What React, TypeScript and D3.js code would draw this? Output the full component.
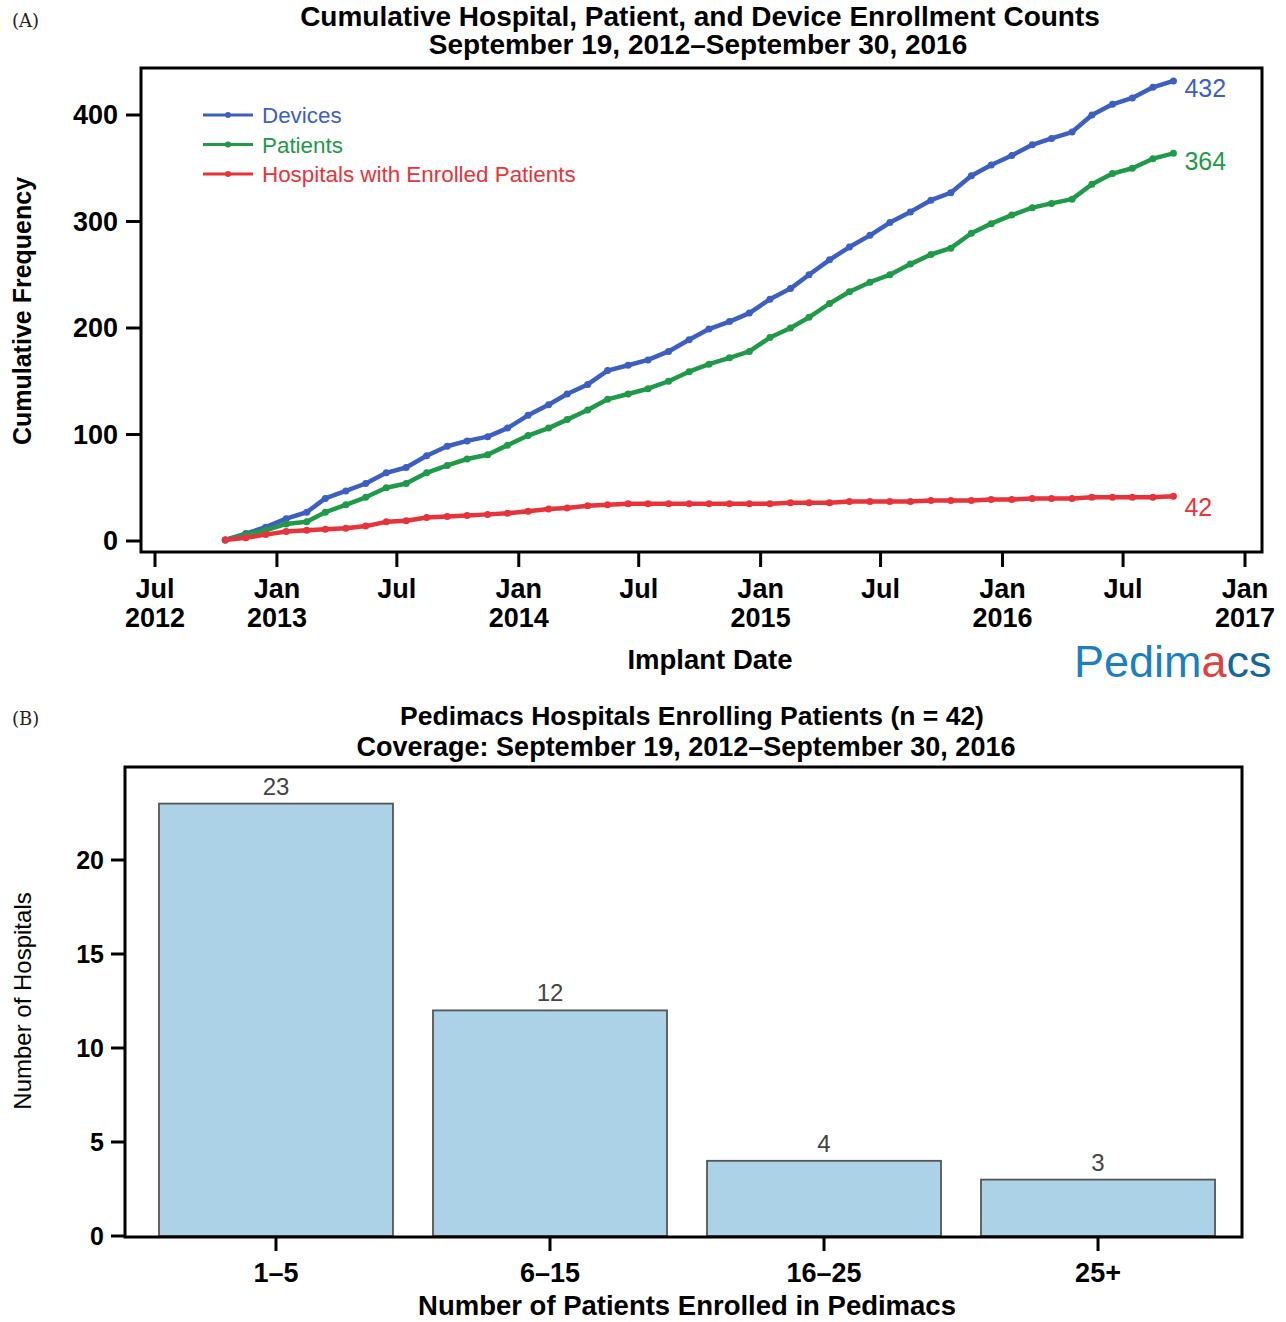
import React from 'react';
import * as d3 from 'd3';

// ---------- Panel A data ----------
const months = [
  "2012-10","2012-11","2012-12","2013-01","2013-02","2013-03","2013-04","2013-05","2013-06","2013-07","2013-08","2013-09",
  "2013-10","2013-11","2013-12","2014-01","2014-02","2014-03","2014-04","2014-05","2014-06","2014-07","2014-08","2014-09",
  "2014-10","2014-11","2014-12","2015-01","2015-02","2015-03","2015-04","2015-05","2015-06","2015-07","2015-08","2015-09",
  "2015-10","2015-11","2015-12","2016-01","2016-02","2016-03","2016-04","2016-05","2016-06","2016-07","2016-08","2016-09"
];
const devices = [1,7,13,21,27,40,47,54,64,69,80,89,94,98,106,118,128,138,147,160,165,170,178,189,199,206,214,227,237,250,264,276,287,299,309,320,327,343,353,362,372,378,384,400,410,416,426,432];
const patients = [1,6,10,16,18,27,34,41,50,54,64,71,77,81,90,99,106,114,123,133,138,143,150,159,166,172,178,191,200,210,223,234,243,250,260,269,275,289,298,306,313,317,321,335,345,350,359,364];
const hospitals = [1,3,6,9,10,11,12,14,18,19,22,23,24,25,26,28,30,31,33,34,35,35,35,35,35,35,35,35,36,36,36,37,37,37,37,38,38,38,39,39,40,40,40,41,41,41,41,42];
const seriesNames = ["Devices","Patients","Hospitals with Enrolled Patients"];
const seriesColors = ["#3c5fc1","#1f9a48","#e8333b"];
const yTicksA = [0,100,200,300,400];
const xTickDates = ["2012-07-01","2013-01-01","2013-07-01","2014-01-01","2014-07-01","2015-01-01","2015-07-01","2016-01-01","2016-07-01","2017-01-01"];
const xTickMonths = ["Jul","Jan","Jul","Jan","Jul","Jan","Jul","Jan","Jul","Jan"];
const xTickYears = ["2012","2013","","2014","","2015","","2016","","2017"];

// ---------- Panel B data ----------
const categories = ["1–5","6–15","16–25","25+"];
const hospitalCounts = [23,12,4,3];
const yTicksB = [0,5,10,15,20];

const FONT = "'Liberation Sans', Arial, Helvetica, sans-serif";

export default function App() {
  const parseDay = d3.timeParse("%Y-%m-%d");
  const dates = months.map(m => parseDay(m + "-15") as Date);
  const x = d3.scaleTime()
    .domain([parseDay("2012-07-01") as Date, parseDay("2017-01-01") as Date])
    .range([155, 1245]);
  const y = d3.scaleLinear().domain([0, 400]).range([541, 115]);
  const line = d3.line<number>().x((_, i) => x(dates[i])).y(d => y(d));
  const series = [devices, patients, hospitals];

  const xb = d3.scaleBand<string>().domain(categories).range([125, 1249]).paddingInner(0.146).paddingOuter(0.124);
  const yb = d3.scaleLinear().domain([0, 25]).range([1236, 766]);

  const endLabelDy = [16, 17, 20];

  return (
    <svg width={1286} height={1322} style={{ position: 'absolute', left: 0, top: 0, background: '#fff' }} fontFamily={FONT}>
      <rect x={0} y={0} width={1286} height={1322} fill="#fff" />
      {/* Panel A */}
      <text x={12} y={27} fontSize={18} fontFamily="'DejaVu Serif', serif" fill="#222">(A)</text>
      <text x={700} y={26} textAnchor="middle" fontSize={28} fontWeight="bold">Cumulative Hospital, Patient, and Device Enrollment Counts</text>
      <text x={698} y={54} textAnchor="middle" fontSize={28} fontWeight="bold">September 19, 2012–September 30, 2016</text>

      <rect x={141} y={68} width={1121} height={484} fill="none" stroke="#000" strokeWidth={3} />
      {yTicksA.map(t => (
        <g key={t}>
          <line x1={126} x2={141} y1={y(t)} y2={y(t)} stroke="#000" strokeWidth={3} />
          <text x={118} y={y(t) + 9} textAnchor="end" fontSize={27} fontWeight="bold">{t}</text>
        </g>
      ))}
      {xTickDates.map((d, i) => {
        const xx = x(parseDay(d) as Date);
        return (
          <g key={d}>
            <line x1={xx} x2={xx} y1={552} y2={567} stroke="#000" strokeWidth={3} />
            <text x={xx} y={598} textAnchor="middle" fontSize={27} fontWeight="bold">{xTickMonths[i]}</text>
            {xTickYears[i] && <text x={xx} y={627} textAnchor="middle" fontSize={27} fontWeight="bold">{xTickYears[i]}</text>}
          </g>
        );
      })}
      <text x={710} y={669} textAnchor="middle" fontSize={27.5} fontWeight="bold">Implant Date</text>
      <text transform="translate(31,311) rotate(-90)" textAnchor="middle" fontSize={25} fontWeight="bold">Cumulative Frequency</text>

      {series.map((s, k) => (
        <g key={k}>
          <path d={line(s) || ''} fill="none" stroke={seriesColors[k]} strokeWidth={4.5} strokeLinejoin="round" />
          {s.map((v, i) => (
            <circle key={i} cx={x(dates[i])} cy={y(v)} r={3.5} fill={seriesColors[k]} />
          ))}
          <text x={x(dates[s.length - 1]) + 11} y={y(s[s.length - 1]) + endLabelDy[k]} fontSize={25} fill={seriesColors[k]}>{s[s.length - 1]}</text>
        </g>
      ))}

      {/* legend */}
      {seriesNames.map((n, k) => (
        <g key={n} transform={`translate(0,${115 + k * 29.5})`}>
          <line x1={203} x2={253} y1={0} y2={0} stroke={seriesColors[k]} strokeWidth={3} />
          <circle cx={228} cy={0} r={3} fill={seriesColors[k]} />
          <text x={262} y={8} fontSize={22.4} fill={seriesColors[k]}>{n}</text>
        </g>
      ))}

      {/* logo */}
      <text x={1074} y={677} fontSize={45} fill="#1b7fc2" fontFamily="'Liberation Sans', Arial, sans-serif">
        <tspan>Pedim</tspan><tspan fill="#e0413a">a</tspan><tspan fill="#16669e">cs</tspan>
      </text>

      {/* Panel B */}
      <text x={12} y={725} fontSize={18} fontFamily="'DejaVu Serif', serif" fill="#222">(B)</text>
      <text x={692} y={725} textAnchor="middle" fontSize={26.5} fontWeight="bold">Pedimacs Hospitals Enrolling Patients (n = 42)</text>
      <text x={686} y={756} textAnchor="middle" fontSize={27} fontWeight="bold">Coverage: September 19, 2012–September 30, 2016</text>

      {categories.map((c, i) => (
        <g key={c}>
          <rect x={xb(c)} y={yb(hospitalCounts[i])} width={xb.bandwidth()} height={yb(0) - yb(hospitalCounts[i])}
            fill="#abd2e6" stroke="#555" strokeWidth={1.8} />
          <text x={(xb(c) as number) + xb.bandwidth() / 2} y={yb(hospitalCounts[i]) - 9} textAnchor="middle" fontSize={24} fill="#444">{hospitalCounts[i]}</text>
          <line x1={(xb(c) as number) + xb.bandwidth() / 2} x2={(xb(c) as number) + xb.bandwidth() / 2} y1={1237} y2={1251} stroke="#000" strokeWidth={3} />
          <text x={(xb(c) as number) + xb.bandwidth() / 2} y={1282} textAnchor="middle" fontSize={27} fontWeight="bold">{c}</text>
        </g>
      ))}
      <rect x={125} y={767} width={1117} height={470} fill="none" stroke="#000" strokeWidth={3} />
      {yTicksB.map(t => (
        <g key={t}>
          <line x1={111} x2={125} y1={yb(t)} y2={yb(t)} stroke="#000" strokeWidth={3} />
          <text x={104} y={yb(t) + 9} textAnchor="end" fontSize={25} fontWeight="bold">{t}</text>
        </g>
      ))}
      <text x={687} y={1315} textAnchor="middle" fontSize={27.5} fontWeight="bold">Number of Patients Enrolled in Pedimacs</text>
      <text transform="translate(31,1001) rotate(-90)" textAnchor="middle" fontSize={24}>Number of Hospitals</text>
    </svg>
  );
}
